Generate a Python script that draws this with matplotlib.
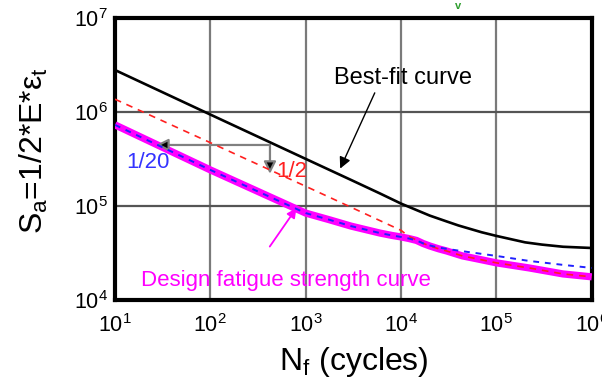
import matplotlib
matplotlib.use("Agg")
import matplotlib.pyplot as plt

plt.rcParams['font.family'] = ['Liberation Sans', 'DejaVu Sans']
plt.rcParams['mathtext.fontset'] = 'custom'
plt.rcParams['mathtext.rm'] = 'Liberation Sans'
plt.rcParams['mathtext.it'] = 'Liberation Sans:italic'
plt.rcParams['mathtext.default'] = 'regular'

# Cycles to failure and stress amplitude for each curve
n_best = [10, 100, 1e3, 3e3, 6e3, 1e4, 2e4, 3e4, 4e4, 7e4, 1e5, 2e5, 3e5, 5e5, 1e6]
s_best = [2.8e6, 9.4e5, 3.17e5, 1.89e5, 1.36e5, 1.06e5, 7.9e4, 6.85e4, 6.2e4,
          5.25e4, 4.8e4, 4.1e4, 3.88e4, 3.68e4, 3.57e4]

n_half = [10, 100, 1e3, 1e4, 1.2e4, 1.45e4, 1.7e4, 2e4, 2.5e4, 3e4, 4.4e4,
          6e4, 1e5, 2.2e5, 5e5, 1e6]
s_half = [1.37e6, 4.72e5, 1.62e5, 5.5e4, 4.75e4, 4.35e4, 4.0e4, 3.75e4, 3.49e4,
          3.32e4, 2.94e4, 2.76e4, 2.48e4, 2.19e4, 1.89e4, 1.76e4]

n_twentieth = [10, 100, 1e3, 1.8e3, 3e3, 6e3, 8e3, 1e4, 1.2e4, 1.45e4, 1.7e4,
               2e4, 2.5e4, 3e4, 4.4e4, 1e5, 2.2e5, 5e5, 1e6]
s_twentieth = [7.3e5, 2.42e5, 8.4e4, 7.1e4, 6.1e4, 5.15e4, 4.86e4, 4.68e4,
               4.51e4, 4.3e4, 4.0e4, 3.8e4, 3.6e4, 3.5e4, 3.3e4, 2.94e4,
               2.6e4, 2.36e4, 2.19e4]

n_design = [10, 100, 1e3, 1.8e3, 3e3, 6e3, 8e3, 1e4, 1.2e4, 1.45e4, 1.7e4,
            2e4, 2.5e4, 3e4, 4.4e4, 6e4, 1e5, 2.2e5, 5e5, 1e6]
s_design = [7.3e5, 2.42e5, 8.4e4, 7.1e4, 6.1e4, 5.15e4, 4.86e4, 4.68e4,
            4.51e4, 4.3e4, 3.99e4, 3.75e4, 3.49e4, 3.32e4, 2.94e4, 2.76e4,
            2.48e4, 2.19e4, 1.89e4, 1.76e4]

x_ticks = [1e1, 1e2, 1e3, 1e4, 1e5, 1e6]
y_ticks = [1e4, 1e5, 1e6, 1e7]

fig = plt.figure(figsize=(6.02, 3.85), dpi=100)
ax = fig.add_axes([0.191, 0.221, 0.792, 0.732])
ax.set_xscale('log')
ax.set_yscale('log')
ax.set_xlim(1e1, 1e6)
ax.set_ylim(1e4, 1e7)
ax.set_xticks(x_ticks)
ax.set_yticks(y_ticks)
ax.minorticks_off()
ax.tick_params(length=0, labelsize=15.5, pad=5)
ax.tick_params(axis='x', pad=10)

for g in x_ticks[1:-1]:
    ax.axvline(g, color='#7a7a7a', lw=1.6, zorder=1)
for g in y_ticks[1:-1]:
    ax.axhline(g, color='#555555', lw=1.6, zorder=1)

for sp in ax.spines.values():
    sp.set_linewidth(3.0)
    sp.set_color('black')

ax.plot(n_design, s_design, color='#ff00ff', lw=5.2, solid_capstyle='butt',
        solid_joinstyle='round', zorder=3)
ax.plot(n_half, s_half, color='#ff2020', lw=1.2, dashes=(4, 3.5), zorder=4)
ax.plot(n_twentieth, s_twentieth, color='#2020ff', lw=1.4, dashes=(3, 3), zorder=5)
ax.plot(n_best, s_best, color='black', lw=1.9, solid_joinstyle='round', zorder=4)

ax.text(1.05e4, 2.3e6, 'Best-fit curve', fontsize=17, ha='center', va='center')
ax.annotate('', xy=(2.3e3, 2.5e5), xytext=(5.3e3, 1.6e6),
            arrowprops=dict(arrowstyle='-|>', color='black', lw=1.0,
                            mutation_scale=17, shrinkA=0, shrinkB=0))

ax.text(22, 2.87e5, '1/20', fontsize=16, color='#3333ff', ha='center', va='center')
ax.text(720, 2.3e5, '1/2', fontsize=16, color='#ff2020', ha='center', va='center')

ax.annotate('', xy=(27, 4.46e5), xytext=(422, 4.46e5),
            arrowprops=dict(arrowstyle='-|>', color='#808080', lw=1.6,
                            mutation_scale=18, shrinkA=0, shrinkB=0,
                            fc='black', ec='#808080'))
ax.annotate('', xy=(422, 2.2e5), xytext=(422, 4.46e5),
            arrowprops=dict(arrowstyle='-|>', color='#808080', lw=1.6,
                            mutation_scale=18, shrinkA=0, shrinkB=0,
                            fc='black', ec='#808080'))

ax.annotate('', xy=(800, 9.5e4), xytext=(420, 3.7e4),
            arrowprops=dict(arrowstyle='-|>', color='#ff00ff', lw=1.3,
                            mutation_scale=14, shrinkA=0, shrinkB=0))
ax.text(620, 1.6e4, 'Design fatigue strength curve', fontsize=16,
        color='#ff00ff', ha='center', va='center')

ax.set_xlabel(r'N$_\mathrm{f}$ (cycles)', fontsize=23, labelpad=6)
ax.set_ylabel(r'S$_\mathrm{a}$=1/2*E*ε$_\mathrm{t}$', fontsize=23)
ax.yaxis.set_label_coords(-0.137, 0.53)

fig.text(0.761, 0.998, 'v', color='#2e9e2e', fontsize=8, fontweight='bold',
         ha='center', va='top')

fig.savefig('out.png', dpi=100)
